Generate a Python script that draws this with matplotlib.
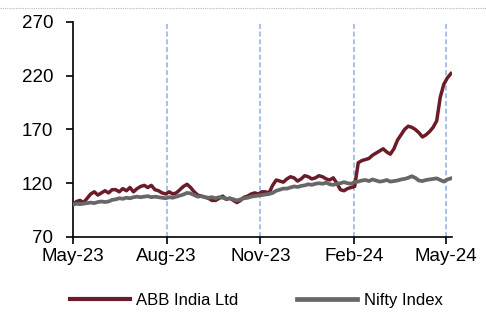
import pandas as pd
import matplotlib
matplotlib.use('Agg')
import matplotlib.pyplot as plt
from matplotlib.lines import Line2D

plt.rcParams['font.family'] = ['Liberation Sans', 'DejaVu Sans']

# rebased prices (start = 100), one reading every 3.5 days
dates = pd.date_range('2023-05-01', periods=107, freq='84h')
abb = [100, 103, 104, 102, 106, 110, 112, 109, 111, 113,
       111, 114, 114, 112, 115, 113, 116, 112, 115, 117,
       118, 116, 118, 114, 113, 111, 110, 112, 110, 111,
       114, 117, 119, 116, 112, 109, 108, 107, 106, 104,
       104, 106, 108, 105, 106, 104, 102, 104, 107, 108,
       110, 111, 110, 112, 112, 111, 118, 123, 122, 121,
       124, 126, 125, 122, 124, 127, 126, 124, 125, 127,
       126, 124, 123, 125, 120, 114, 113, 115, 116, 117,
       139, 141, 142, 143, 146, 148, 150, 152, 149, 147,
       152, 160, 165, 170, 173, 172, 170, 167, 163, 165,
       168, 172, 178, 200, 212, 218, 222]
nifty = [100, 101, 100.5, 101, 101.5, 102, 101.5, 102.5, 103, 102.5,
         103, 104.5, 105, 106, 105.5, 106.5, 106, 107, 107.5, 107,
         107.5, 108, 107, 107.5, 107, 106.5, 106, 107, 106.5, 107.5,
         108.5, 109.5, 111, 110.5, 109, 107.5, 108, 107, 106.5, 107,
         106, 107, 106.5, 105.5, 106, 105, 104, 105, 106, 106.5,
         107.5, 108, 108.5, 109, 109.5, 110, 111, 113, 114, 115,
         115, 116, 117, 116.5, 117.5, 118, 119, 118.5, 119.5, 120,
         119.5, 120.5, 119, 118.5, 119.5, 120, 121, 120, 119.5, 121,
         121.5, 122.5, 123, 122, 123.5, 122.5, 121.5, 122, 123, 121.5,
         122, 122.5, 123.5, 124, 125, 126.5, 125, 122.5, 122, 123,
         123.5, 124, 124.5, 123, 121.5, 123.5, 124.5]
series_names = ['ABB India Ltd', 'Nifty Index']
tick_dates = ['2023-05-01', '2023-08-01', '2023-11-01', '2024-02-01', '2024-05-01']
tick_labels = ['May-23', 'Aug-23', 'Nov-23', 'Feb-24', 'May-24']
y_ticks = [70, 120, 170, 220, 270]

abb_color = '#6B1C27'
nifty_color = '#676767'

fig = plt.figure(figsize=(4.86, 3.22), dpi=100)
ax = fig.add_axes([0.150, 0.264, 0.780, 0.668])

# dashed guides at each quarter
for d in tick_dates[1:]:
    ax.axvline(pd.Timestamp(d), color='#A9C2EA', lw=1.5, ls=(0, (2.4, 1.3)), zorder=1)

ax.plot(dates, abb, color=abb_color, lw=2.5, zorder=3, solid_joinstyle='round')
ax.plot(dates, nifty, color=nifty_color, lw=2.7, zorder=4, solid_joinstyle='round')

ax.set_xlim(pd.Timestamp('2023-05-01'), pd.Timestamp('2024-05-07'))
ax.set_ylim(70, 270)
ax.set_yticks(y_ticks)
ax.set_xticks([pd.Timestamp(d) for d in tick_dates])
ax.set_xticklabels(tick_labels)
ax.tick_params(axis='both', labelsize=13.5, length=5, width=1.2, direction='out', colors='black')
ax.tick_params(axis='y', pad=9)
ax.tick_params(axis='x', pad=3)
for s in ['top', 'right']:
    ax.spines[s].set_visible(False)
for s in ['left', 'bottom']:
    ax.spines[s].set_linewidth(1.2)

# thin dotted rule at the top of the figure
fig.add_artist(Line2D([0, 1], [0.974, 0.974], transform=fig.transFigure,
                      color='#BBBBBB', lw=0.8, ls=(0, (1, 1))))

handles = [Line2D([], [], color=abb_color, lw=3), Line2D([], [], color=nifty_color, lw=3.4)]
fig.legend(handles, series_names, loc='center', bbox_to_anchor=(0.527, 0.066), ncol=2,
           frameon=False, fontsize=12, handlelength=3.6, handletextpad=0.4,
           columnspacing=3.5)

fig.savefig('out.png', dpi=100)
